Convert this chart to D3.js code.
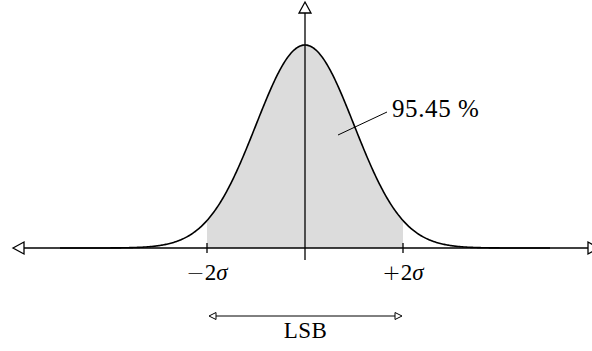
<!DOCTYPE html>
<html>
<head>
<meta charset="utf-8">
<script src="https://cdn.jsdelivr.net/npm/d3@7"></script>
<style>
  html, body { margin: 0; padding: 0; background: #fff; }
  svg { display: block; }
  text { font-family: "Liberation Serif", "DejaVu Serif", serif; fill: #000; }
</style>
</head>
<body>
<svg id="chart" width="592" height="351"></svg>
<script>
// Normal distribution, in units of sigma
const mean = 0;
const sigma = 1;
const curveDomain = [-5, 5];          // extent of the plotted density
const shadedRange = [-2, 2];          // central region that is filled
const tickValues = [-2, 2];
const tickLabels = ["\u22122\u03c3", "+2\u03c3"];
const coverageLabel = ["95.45 %"];
const spanLabel = ["LSB"];

const svg = d3.select("#chart");

const x = d3.scaleLinear().domain([-5, 5]).range([60, 550]);
const peak = 1 / (sigma * Math.sqrt(2 * Math.PI));
const y = d3.scaleLinear().domain([0, peak]).range([248, 45]);

const density = v => Math.exp(-0.5 * ((v - mean) / sigma) ** 2) / (sigma * Math.sqrt(2 * Math.PI));
const sampleX = d3.range(curveDomain[0], curveDomain[1] + 1e-9, 0.02);

// Shaded area between -2σ and +2σ
const shadeX = sampleX.filter(v => v >= shadedRange[0] - 1e-9 && v <= shadedRange[1] + 1e-9);
svg.append("path")
  .datum(shadeX)
  .attr("fill", "#dcdcdc")
  .attr("d", d3.area().x(d => x(d)).y0(y(0)).y1(d => y(density(d))));

// Open triangular arrowhead
function arrowHead(tipX, tipY, dir, len, half) {
  const [dx, dy] = dir;
  const bx = tipX - dx * len, by = tipY - dy * len;
  const px = -dy * half, py = dx * half;
  return `M${tipX},${tipY}L${bx + px},${by + py}L${bx - px},${by - py}Z`;
}

const axisColor = "#000";
const baseY = y(0);
const zeroX = x(0);

// Horizontal axis
svg.append("line")
  .attr("x1", 24).attr("x2", 588).attr("y1", baseY).attr("y2", baseY)
  .attr("stroke", axisColor).attr("stroke-width", 1.3);
svg.append("path").attr("d", arrowHead(13, baseY, [-1, 0], 11, 6))
  .attr("fill", "#fff").attr("stroke", axisColor).attr("stroke-width", 1.3);
svg.append("path").attr("d", arrowHead(599, baseY, [1, 0], 11, 6))
  .attr("fill", "#fff").attr("stroke", axisColor).attr("stroke-width", 1.3);

// Vertical axis
svg.append("line")
  .attr("x1", zeroX).attr("x2", zeroX).attr("y1", 260).attr("y2", 13)
  .attr("stroke", axisColor).attr("stroke-width", 1.3);
svg.append("path").attr("d", arrowHead(zeroX, 2, [0, -1], 11, 6))
  .attr("fill", "#fff").attr("stroke", axisColor).attr("stroke-width", 1.3);

// Density curve
svg.append("path")
  .datum(sampleX)
  .attr("fill", "none")
  .attr("stroke", "#000")
  .attr("stroke-width", 1.6)
  .attr("d", d3.line().x(d => x(d)).y(d => y(density(d))));

// Ticks and labels at ±2σ: sign, digit, italic sigma
const ticks = svg.append("g");
tickValues.forEach((v, i) => {
  ticks.append("line")
    .attr("x1", x(v)).attr("x2", x(v)).attr("y1", baseY - 5).attr("y2", baseY + 5)
    .attr("stroke", axisColor).attr("stroke-width", 1.3);
  const label = ticks.append("text")
    .attr("x", x(v)).attr("y", 280)
    .attr("text-anchor", "middle")
    .attr("font-size", 23);
  const chars = Array.from(tickLabels[i]);
  label.append("tspan")
    .attr("font-family", "DejaVu Sans")
    .attr("font-weight", 200)
    .attr("font-size", 22)
    .text(chars[0]);
  label.append("tspan").text(chars[1]);
  label.append("tspan").attr("font-style", "italic").text(chars[2]);
});

// Coverage annotation with leader line
svg.append("line")
  .attr("x1", 338).attr("y1", 135).attr("x2", 387).attr("y2", 112)
  .attr("stroke", "#000").attr("stroke-width", 1);
svg.append("text")
  .attr("x", 392).attr("y", 117)
  .attr("font-size", 25)
  .attr("letter-spacing", 0.6)
  .text(coverageLabel[0]);

// LSB span arrow
const spanY = 316;
const x0 = x(shadedRange[0]) + 2, x1 = x(shadedRange[1]) - 1;
svg.append("line")
  .attr("x1", x0 + 7).attr("x2", x1 - 7).attr("y1", spanY).attr("y2", spanY)
  .attr("stroke", "#000").attr("stroke-width", 1);
svg.append("path").attr("d", arrowHead(x0, spanY, [-1, 0], 7, 3.5))
  .attr("fill", "#fff").attr("stroke", "#000").attr("stroke-width", 1);
svg.append("path").attr("d", arrowHead(x1, spanY, [1, 0], 7, 3.5))
  .attr("fill", "#fff").attr("stroke", "#000").attr("stroke-width", 1);
svg.append("text")
  .attr("x", (x0 + x1) / 2).attr("y", 338)
  .attr("text-anchor", "middle")
  .attr("font-size", 23)
  .attr("letter-spacing", 0.5)
  .text(spanLabel[0]);
</script>
</body>
</html>
